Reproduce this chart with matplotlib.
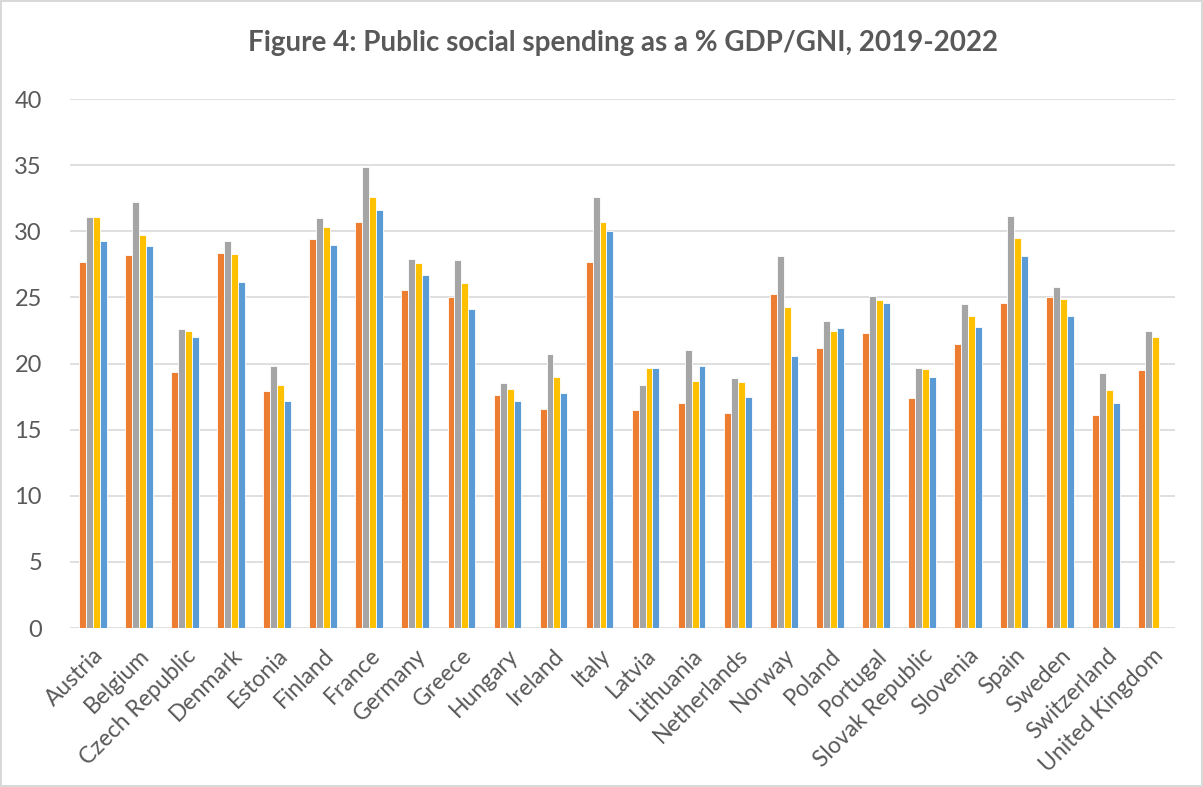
import numpy as np
import matplotlib
matplotlib.use("Agg")
import matplotlib.pyplot as plt

countries = ["Austria", "Belgium", "Czech Republic", "Denmark", "Estonia", "Finland",
             "France", "Germany", "Greece", "Hungary", "Ireland", "Italy", "Latvia",
             "Lithuania", "Netherlands", "Norway", "Poland", "Portugal", "Slovak Republic",
             "Slovenia", "Spain", "Sweden", "Switzerland", "United Kingdom"]
y2019 = [27.7, 28.2, 19.4, 28.4, 17.9, 29.4, 30.7, 25.6, 25.0, 17.6, 16.6, 27.7,
         16.5, 17.0, 16.3, 25.3, 21.2, 22.3, 17.4, 21.5, 24.6, 25.0, 16.1, 19.5]
y2020 = [31.1, 32.2, 22.6, 29.3, 19.8, 31.0, 34.9, 27.9, 27.8, 18.5, 20.7, 32.6,
         18.4, 21.0, 18.9, 28.1, 23.2, 25.1, 19.7, 24.5, 31.2, 25.8, 19.3, 22.5]
y2021 = [31.1, 29.7, 22.5, 28.3, 18.4, 30.3, 32.6, 27.6, 26.1, 18.1, 19.0, 30.7,
         19.7, 18.7, 18.6, 24.3, 22.5, 24.8, 19.6, 23.6, 29.5, 24.9, 18.0, 22.0]
y2022 = [29.3, 28.9, 22.0, 26.2, 17.2, 29.0, 31.6, 26.7, 24.1, 17.2, 17.8, 30.0,
         19.7, 19.8, 17.5, 20.6, 22.7, 24.6, 19.0, 22.8, 28.1, 23.6, 17.0, np.nan]
series = [y2019, y2020, y2021, y2022]
colors = ["#ED7D31", "#A5A5A5", "#FFC000", "#5B9BD5"]

TXT = "#595959"
plt.rcParams["font.family"] = ["Lato", "DejaVu Sans"]

fig = plt.figure(figsize=(12.03, 7.87), dpi=100)
fig.patch.set_edgecolor("#D9D9D9"); fig.patch.set_linewidth(1.5)
ax = fig.add_axes([0.058, 0.202, 0.919, 0.672])

x = np.arange(len(countries)); w = 0.15
for i, (vals, c) in enumerate(zip(series, colors)):
    ax.bar(x + (i - 1.5) * w, vals, w, color=c, edgecolor="white", linewidth=0.6, zorder=3)

ax.set_xlim(-0.5, len(countries) - 0.5)
ax.set_ylim(0, 40)
ax.set_yticks(range(0, 41, 5))
ax.yaxis.grid(True, color="#D9D9D9", lw=1.2, zorder=0)
ax.set_axisbelow(True)
for s in ax.spines.values():
    s.set_visible(False)
ax.tick_params(length=0)
ax.tick_params(axis="y", labelsize=17, labelcolor=TXT, pad=20)
ax.set_xticks(x)
ax.set_xticklabels(countries, rotation=45, ha="right", rotation_mode="anchor",
                   fontsize=16.5, color=TXT)
ax.tick_params(axis="x", pad=12)

fig.suptitle("Figure 4: Public social spending as a % GDP/GNI, 2019-2022",
             x=0.518, y=0.962, fontsize=20, fontweight="bold", color=TXT)
fig.savefig("out.png", dpi=100)
